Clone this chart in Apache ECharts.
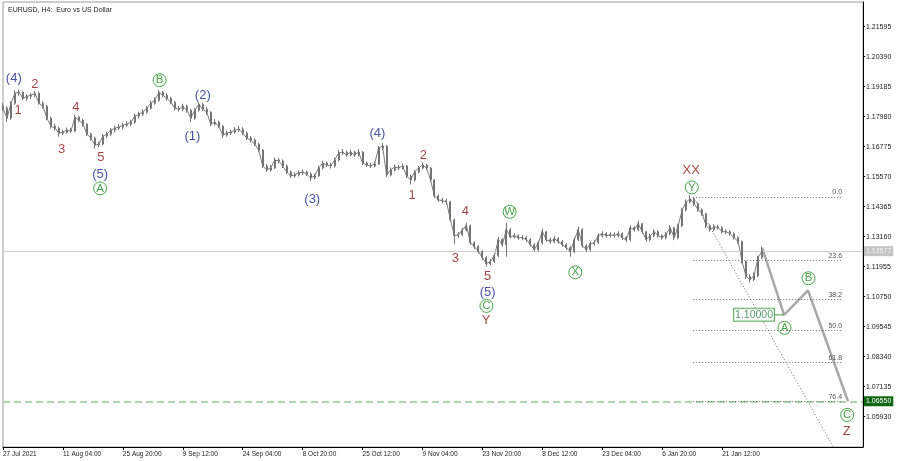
<!DOCTYPE html>
<html><head><meta charset="utf-8">
<script src="https://cdn.jsdelivr.net/npm/echarts@6/dist/echarts.min.js"></script>
<style>html,body{margin:0;padding:0;background:#fff}#c{width:900px;height:461px}</style>
</head><body><div id="c"></div>
<script>
const chartTitle = 'EURUSD, H4:  Euro vs US Dollar';
const tickLabels = ['27 Jul 2021','11 Aug 04:00','25 Aug 20:00','9 Sep 12:00','24 Sep 04:00','8 Oct 20:00','25 Oct 12:00','9 Nov 04:00','23 Nov 20:00','8 Dec 12:00','23 Dec 04:00','6 Jan 20:00','21 Jan 12:00'];
const tickIndex = [0,15,30,45,60,75,90,105,120,135,150,165,180];
const priceTicks = [1.05930,1.07135,1.08340,1.09545,1.10750,1.11955,1.13160,1.14365,1.15570,1.16775,1.17980,1.19185,1.20390,1.21595];

const opens = [
1.1840,1.1832,1.1792,1.1852,1.1892,1.1896,1.1872,1.1880,1.1884,1.1892,
1.1852,1.1840,1.1792,1.1760,1.1752,1.1732,1.1736,1.1744,1.1740,1.1796,
1.1784,1.1768,1.1728,1.1712,1.1684,1.1688,1.1720,1.1728,1.1744,1.1752,
1.1756,1.1764,1.1768,1.1776,1.1800,1.1808,1.1816,1.1832,1.1852,1.1864,
1.1896,1.1884,1.1872,1.1856,1.1832,1.1828,1.1840,1.1824,1.1792,1.1824,
1.1848,1.1828,1.1816,1.1768,1.1776,1.1760,1.1724,1.1732,1.1736,1.1744,
1.1748,1.1732,1.1712,1.1704,1.1688,1.1664,1.1600,1.1584,1.1592,1.1624,
1.1620,1.1600,1.1576,1.1560,1.1564,1.1572,1.1576,1.1568,1.1552,1.1560,
1.1592,1.1612,1.1604,1.1600,1.1624,1.1652,1.1656,1.1644,1.1656,1.1644,
1.1656,1.1612,1.1604,1.1600,1.1608,1.1672,1.1680,1.1564,1.1584,1.1596,
1.1592,1.1600,1.1560,1.1544,1.1576,1.1592,1.1604,1.1592,1.1544,1.1480,
1.1464,1.1460,1.1456,1.1384,1.1320,1.1324,1.1344,1.1360,1.1292,1.1276,
1.1256,1.1232,1.1208,1.1216,1.1240,1.1304,1.1284,1.1344,1.1316,1.1320,
1.1312,1.1312,1.1304,1.1284,1.1264,1.1292,1.1336,1.1304,1.1296,1.1308,
1.1296,1.1284,1.1272,1.1256,1.1304,1.1344,1.1280,1.1264,1.1288,1.1292,
1.1320,1.1328,1.1320,1.1324,1.1320,1.1328,1.1312,1.1304,1.1352,1.1344,
1.1368,1.1336,1.1304,1.1320,1.1336,1.1320,1.1312,1.1328,1.1352,1.1312,
1.1360,1.1424,1.1456,1.1468,1.1448,1.1424,1.1408,1.1360,1.1344,1.1356,
1.1352,1.1336,1.1336,1.1328,1.1312,1.1296,1.1216,1.1156,1.1144,1.1160,
1.1232];
const closes = [
1.1832,1.1792,1.1852,1.1892,1.1896,1.1872,1.1880,1.1884,1.1892,1.1852,
1.1840,1.1792,1.1760,1.1752,1.1732,1.1736,1.1744,1.1740,1.1796,1.1784,
1.1768,1.1728,1.1712,1.1684,1.1688,1.1720,1.1728,1.1744,1.1752,1.1756,
1.1764,1.1768,1.1776,1.1800,1.1808,1.1816,1.1832,1.1852,1.1864,1.1896,
1.1884,1.1872,1.1856,1.1832,1.1828,1.1840,1.1824,1.1792,1.1824,1.1848,
1.1828,1.1816,1.1768,1.1776,1.1760,1.1724,1.1732,1.1736,1.1744,1.1748,
1.1732,1.1712,1.1704,1.1688,1.1664,1.1600,1.1584,1.1592,1.1624,1.1620,
1.1600,1.1576,1.1560,1.1564,1.1572,1.1576,1.1568,1.1552,1.1560,1.1592,
1.1612,1.1604,1.1600,1.1624,1.1652,1.1656,1.1644,1.1656,1.1644,1.1656,
1.1612,1.1604,1.1600,1.1608,1.1672,1.1680,1.1564,1.1584,1.1596,1.1592,
1.1600,1.1560,1.1544,1.1576,1.1592,1.1604,1.1592,1.1544,1.1480,1.1464,
1.1460,1.1456,1.1384,1.1320,1.1324,1.1344,1.1360,1.1292,1.1276,1.1256,
1.1232,1.1208,1.1216,1.1240,1.1304,1.1284,1.1344,1.1316,1.1320,1.1312,
1.1312,1.1304,1.1284,1.1264,1.1292,1.1336,1.1304,1.1296,1.1308,1.1296,
1.1284,1.1272,1.1256,1.1304,1.1344,1.1280,1.1264,1.1288,1.1292,1.1320,
1.1328,1.1320,1.1324,1.1320,1.1328,1.1312,1.1304,1.1352,1.1344,1.1368,
1.1336,1.1304,1.1320,1.1336,1.1320,1.1312,1.1328,1.1352,1.1312,1.1360,
1.1424,1.1456,1.1468,1.1448,1.1424,1.1408,1.1360,1.1344,1.1356,1.1352,
1.1336,1.1336,1.1328,1.1312,1.1296,1.1216,1.1156,1.1144,1.1160,1.1232,
1.1258];
const highs = [
1.1852,1.1840,1.1860,1.1904,1.1908,1.1900,1.1890,1.1894,1.1902,1.1898,
1.1860,1.1846,1.1798,1.1770,1.1758,1.1746,1.1754,1.1752,1.1806,1.1800,
1.1790,1.1772,1.1734,1.1718,1.1698,1.1728,1.1738,1.1752,1.1762,1.1768,
1.1774,1.1780,1.1786,1.1810,1.1818,1.1828,1.1840,1.1862,1.1876,1.1906,
1.1902,1.1892,1.1878,1.1860,1.1842,1.1850,1.1846,1.1830,1.1832,1.1856,
1.1854,1.1836,1.1820,1.1788,1.1782,1.1764,1.1742,1.1746,1.1756,1.1762,
1.1756,1.1738,1.1720,1.1710,1.1694,1.1668,1.1608,1.1604,1.1634,1.1632,
1.1626,1.1606,1.1582,1.1574,1.1582,1.1586,1.1582,1.1574,1.1570,1.1600,
1.1622,1.1618,1.1612,1.1632,1.1664,1.1668,1.1662,1.1666,1.1662,1.1668,
1.1660,1.1618,1.1612,1.1618,1.1680,1.1692,1.1684,1.1594,1.1606,1.1604,
1.1610,1.1604,1.1566,1.1584,1.1600,1.1614,1.1610,1.1596,1.1548,1.1486,
1.1472,1.1468,1.1460,1.1388,1.1334,1.1352,1.1372,1.1364,1.1298,1.1282,
1.1262,1.1238,1.1226,1.1248,1.1316,1.1310,1.1372,1.1350,1.1330,1.1326,
1.1322,1.1318,1.1310,1.1290,1.1300,1.1348,1.1340,1.1312,1.1318,1.1314,
1.1302,1.1290,1.1278,1.1312,1.1356,1.1350,1.1286,1.1296,1.1302,1.1330,
1.1338,1.1334,1.1334,1.1332,1.1338,1.1334,1.1318,1.1362,1.1358,1.1380,
1.1372,1.1340,1.1328,1.1346,1.1342,1.1326,1.1336,1.1362,1.1356,1.1368,
1.1432,1.1466,1.1484,1.1476,1.1454,1.1430,1.1412,1.1366,1.1366,1.1364,
1.1358,1.1346,1.1342,1.1334,1.1318,1.1300,1.1220,1.1164,1.1172,1.1240,
1.1276];
const lows = [
1.1820,1.1776,1.1786,1.1846,1.1882,1.1864,1.1862,1.1870,1.1876,1.1846,
1.1830,1.1784,1.1750,1.1742,1.1718,1.1724,1.1730,1.1732,1.1736,1.1776,
1.1758,1.1720,1.1702,1.1670,1.1676,1.1682,1.1712,1.1720,1.1736,1.1744,
1.1748,1.1756,1.1760,1.1770,1.1792,1.1800,1.1810,1.1826,1.1846,1.1858,
1.1876,1.1862,1.1848,1.1822,1.1818,1.1820,1.1814,1.1776,1.1786,1.1818,
1.1820,1.1806,1.1760,1.1762,1.1752,1.1712,1.1718,1.1724,1.1730,1.1736,
1.1724,1.1704,1.1694,1.1680,1.1656,1.1592,1.1576,1.1578,1.1588,1.1610,
1.1592,1.1568,1.1552,1.1552,1.1558,1.1564,1.1560,1.1540,1.1546,1.1556,
1.1586,1.1596,1.1590,1.1594,1.1618,1.1644,1.1636,1.1638,1.1636,1.1638,
1.1604,1.1596,1.1592,1.1594,1.1604,1.1664,1.1556,1.1558,1.1578,1.1584,
1.1586,1.1552,1.1526,1.1538,1.1570,1.1586,1.1584,1.1536,1.1472,1.1456,
1.1450,1.1444,1.1376,1.1286,1.1310,1.1318,1.1338,1.1284,1.1266,1.1248,
1.1222,1.1196,1.1200,1.1210,1.1234,1.1276,1.1236,1.1308,1.1308,1.1304,
1.1302,1.1296,1.1276,1.1256,1.1258,1.1286,1.1296,1.1288,1.1290,1.1288,
1.1276,1.1264,1.1236,1.1250,1.1298,1.1272,1.1254,1.1258,1.1280,1.1286,
1.1312,1.1312,1.1314,1.1312,1.1314,1.1304,1.1294,1.1298,1.1336,1.1338,
1.1328,1.1296,1.1298,1.1314,1.1312,1.1304,1.1306,1.1322,1.1302,1.1306,
1.1354,1.1418,1.1450,1.1440,1.1416,1.1400,1.1350,1.1336,1.1338,1.1344,
1.1328,1.1326,1.1320,1.1304,1.1288,1.1208,1.1146,1.1132,1.1138,1.1154,
1.1226];

const lastPrice = 1.12577;
const targetPrice = 1.06550;
const fibStart = [172.75, 1.14755];
const fibEnd = [210.25, 1.04015];
const fibRatios = [0, 0.236, 0.382, 0.5, 0.618, 0.764];
const fibNames = ['0.0','23.6','38.2','50.0','61.8','76.4'];
const projection = [[190, 1.1272], [195.5, 1.1002], [201.5, 1.1100], [211.5, 1.0655]];
const priceTag = {text: '1.10000', at: 193.1, value: 1.1002};

const redLabels = [['1',3.8,1.1822],['2',8,1.1929],['3',14.7,1.1667],['4',18.25,1.1836],['5',24.5,1.1635],
  ['1',102.4,1.1483],['2',105.2,1.1644],['3',113.25,1.1229],['4',115.75,1.1416],['5',121.3,1.1155],
  ['Y',120.9,1.0981],['XX',172.25,1.1584],['Z',211.2,1.0533]];
const navyLabels = [['(4)',2.7,1.1952],['(5)',24.3,1.1568],['(1)',47.4,1.1718],['(2)',50,1.1885],
  ['(3)',77.4,1.1467],['(4)',93.7,1.1731],['(5)',121.3,1.1093]];
const greenLabels = [['A',24.3,1.1510],['B',39.2,1.1945],['C',121,1.1038],['W',126.8,1.1416],['X',143.25,1.1173],
  ['Y',172.4,1.1514],['A',195.6,1.0950],['B',201.6,1.1149],['C',211.3,1.0600]];

const X_MAX = 215.25, Y_MIN = 1.04713, Y_MAX = 1.22587;
const RED = '#8e1414', NAVY = '#18248f', GREEN = '#1a8f1a';

const candleData = closes.map((c, i) => [i, opens[i], c, lows[i], highs[i]]);
const closeLine = closes.map((c, i) => [i, c]);
const fibLevels = fibRatios.map(r => fibStart[1] - r * (fibStart[1] - fibEnd[1]));

function textSeries(arr, style, isCircle) {
  return {
    type: 'scatter', symbol: 'circle', symbolSize: 1, z: 10,
    itemStyle: {color: 'transparent'},
    data: arr.map(d => ({value: [d[1], d[2]], name: d[0]})),
    label: isCircle ? {
      show: true, position: 'inside', formatter: p => '{c|' + p.name + '}',
      rich: {c: {width: 13, height: 13, lineHeight: 13, align: 'center', verticalAlign: 'middle',
        borderRadius: 7, borderWidth: 1, borderColor: GREEN, color: GREEN, fontSize: 11.5,
        fontFamily: 'Liberation Sans', padding: [0, 0, 0, 0]}}
    } : Object.assign({show: true, position: 'inside', formatter: p => p.name, fontFamily: 'Liberation Sans'}, style)
  };
}

const chart = echarts.init(document.getElementById('c'), null, {renderer: 'canvas'});
chart.setOption({
  animation: false,
  backgroundColor: '#fff',
  title: {text: chartTitle, left: 3, top: 2, textStyle: {fontSize: 7, fontWeight: 'normal', color: '#222', fontFamily: 'Liberation Sans'}},
  grid: {left: 2, right: 37, top: 2, bottom: 14, show: true, borderColor: '#9a9a9a', borderWidth: 1},
  xAxis: {
    type: 'value', min: 0, max: X_MAX,
    splitLine: {show: false},
    axisLine: {show: true, onZero: false, lineStyle: {color: '#000', width: 1}},
    axisTick: {show: true, customValues: tickIndex, length: 3, lineStyle: {color: '#000'}},
    axisLabel: {customValues: tickIndex, align: 'left', margin: 4, fontSize: 6.5, color: '#222', fontFamily: 'Liberation Sans',
      formatter: v => { const k = tickIndex.indexOf(v); return k >= 0 ? tickLabels[k] : ''; }}
  },
  yAxis: {
    type: 'value', position: 'right', min: Y_MIN, max: Y_MAX, scale: true,
    splitLine: {show: false},
    axisLine: {show: true, onZero: false, lineStyle: {color: '#000', width: 1}},
    axisTick: {show: true, customValues: priceTicks, length: 2, lineStyle: {color: '#000'}},
    axisLabel: {customValues: priceTicks, margin: 3, fontSize: 7, color: '#222', fontFamily: 'Liberation Sans',
      formatter: v => v.toFixed(5)}
  },
  series: [
    {
      type: 'line', data: [], silent: true, z: 1,
      markLine: {
        silent: true, symbol: 'none', animation: false, precision: 5,
        data: [
          {yAxis: lastPrice, lineStyle: {color: '#cfcfcf', width: 1, type: 'solid'},
           label: {show: true, position: 'end', distance: 1, formatter: lastPrice.toFixed(5), backgroundColor: '#c4c4c4',
             color: '#f4f4f4', fontSize: 7, padding: [2, 2, 1, 2], fontFamily: 'Liberation Sans'}},
          {yAxis: targetPrice, lineStyle: {color: '#93c993', width: 1.5, type: [7, 4]},
           label: {show: true, position: 'end', distance: 1, formatter: targetPrice.toFixed(5), backgroundColor: '#116611',
             color: '#ffffff', fontSize: 7, padding: [2, 2, 1, 2], fontFamily: 'Liberation Sans'}}
        ]
      }
    },
    {
      type: 'line', data: [], silent: true, z: 2,
      markLine: {
        silent: true, symbol: 'none', animation: false, precision: 5,
        lineStyle: {color: '#6a6a6a', width: 1, type: [1, 2]},
        label: {show: true, position: 'insideEndTop', distance: 1, fontSize: 7, color: '#555', fontFamily: 'Liberation Sans'},
        data: fibLevels.map((lv, k) => [
          {coord: [fibStart[0], lv], label: {formatter: fibNames[k]}},
          {coord: [fibEnd[0], lv]}
        ])
      }
    },
    {
      type: 'line', data: [fibStart, fibEnd], symbol: 'none', silent: true, z: 2,
      lineStyle: {color: '#6a6a6a', width: 1, type: [1, 2]}
    },
    {
      type: 'line', data: projection, symbol: 'none', silent: true, z: 3,
      lineStyle: {color: '#a8a8a8', width: 2.5}
    },
    {
      type: 'line', data: closeLine, symbol: 'none', silent: true, z: 4,
      lineStyle: {color: '#7c7c7c', width: 1}
    },
    {
      type: 'candlestick', data: candleData, barWidth: 1.5, z: 5,
      encode: {x: 0, y: [1, 2, 3, 4]},
      itemStyle: {color: '#8a8a8a', color0: '#8a8a8a', borderColor: '#747474', borderColor0: '#747474', borderWidth: 1}
    },
    {
      type: 'line', data: [[priceTag.at, priceTag.value], [projection[1][0], projection[1][1]]], symbol: 'none', z: 6,
      lineStyle: {color: '#3a9a3a', width: 1}
    },
    {
      type: 'scatter', symbolSize: 1, itemStyle: {color: 'transparent'}, z: 7,
      data: [{value: [priceTag.at, priceTag.value], name: priceTag.text}],
      label: {show: true, position: 'left', distance: 0, formatter: p => p.name, fontSize: 10.5, color: '#2e7d4a',
        borderColor: '#3a9a3a', borderWidth: 1, padding: [1, 1, 0, 1], backgroundColor: '#fff', fontFamily: 'Liberation Sans'}
    },
    textSeries(redLabels, {fontSize: 13, color: RED}, false),
    textSeries(navyLabels, {fontSize: 13, color: NAVY}, false),
    textSeries(greenLabels, null, true)
  ]
});
</script></body></html>
